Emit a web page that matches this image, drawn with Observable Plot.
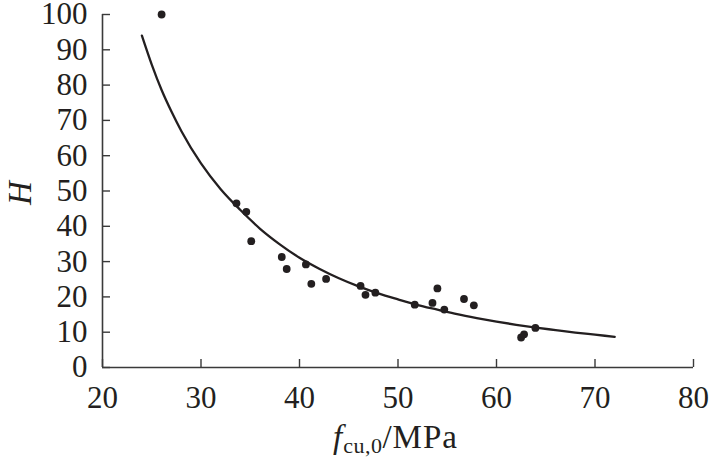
<!DOCTYPE html>
<html>
<head>
<meta charset="utf-8">
<script src="https://cdn.jsdelivr.net/npm/d3@7"></script>
<script src="https://cdn.jsdelivr.net/npm/@observablehq/plot@0.6"></script>
<style>
  html, body { margin: 0; padding: 0; background: #fff; }
  #chart svg { display: block; }
</style>
</head>
<body>
<div id="chart"></div>
<script>
// measured points
const fcu = [26.0, 33.6, 34.6, 35.1, 38.2, 38.7, 40.65, 41.2, 42.7, 46.2, 46.7, 47.7, 51.7, 53.5, 54.0, 54.7, 56.7, 57.7, 62.5, 62.8, 63.95];
const H   = [100, 46.5, 44.1, 35.8, 31.3, 27.9, 29.2, 23.7, 25.1, 23.1, 20.6, 21.2, 17.8, 18.3, 22.4, 16.4, 19.4, 17.6, 8.5, 9.4, 11.2];

// fitted curve
const curveX = [24, 25, 26, 27, 28, 30, 32, 34, 36, 38, 40, 42, 44, 46, 48, 50, 52, 54, 56, 58, 60, 62, 64, 66, 68, 70, 72];
const curveY = [94, 85.8, 78.6, 72.5, 67, 57.8, 50.5, 44.6, 39.3, 34.9, 31.1, 28.0, 25.3, 23.0, 21.0, 19.3, 17.7, 16.4, 15.1, 14.0, 13.0, 12.1, 11.3, 10.6, 9.9, 9.3, 8.7];

// tick labels
const xTicks = [20, 30, 40, 50, 60, 70, 80];
const yTicks = [0, 10, 20, 30, 40, 50, 60, 70, 80, 90, 100];

const points = fcu.map((x, i) => ({x, y: H[i]}));
const curve = curveX.map((x, i) => ({x, y: curveY[i]}));

const W = 709, Ht = 458;
const mL = 102, mR = 16, mT = 14, mB = 91;
const plotW = W - mL - mR, plotH = Ht - mT - mB;
const ink = "#231f20";
const axisInk = "#3a3a3a";
const serif = "Liberation Serif";

const chart = Plot.plot({
  width: W,
  height: Ht,
  marginLeft: mL,
  marginRight: mR,
  marginTop: mT,
  marginBottom: mB,
  style: {fontFamily: serif, fontSize: "31px", color: ink, background: "#fff"},
  x: {domain: [20, 80], ticks: xTicks, label: null},
  y: {domain: [0, 100], ticks: yTicks, label: null},
  marks: [
    Plot.axisX({ticks: xTicks, tickSize: 0, tickPadding: 18, label: null, fill: ink, fontSize: 31, fontFamily: serif}),
    Plot.axisY({ticks: yTicks, tickSize: 0, tickPadding: 15, label: null, fill: ink, fontSize: 31, fontFamily: serif}),
    Plot.ruleX(xTicks, {x: d => d, insetTop: plotH - 8, stroke: axisInk, strokeWidth: 1.4}),
    Plot.ruleY(yTicks, {y: d => d, insetRight: plotW - 8, stroke: axisInk, strokeWidth: 1.4}),
    Plot.ruleX([20], {stroke: axisInk, strokeWidth: 1.6}),
    Plot.ruleY([0], {stroke: axisInk, strokeWidth: 1.6}),
    Plot.line(curve, {x: "x", y: "y", stroke: ink, strokeWidth: 2.3, curve: "monotone-x"}),
    Plot.dot(points, {x: "x", y: "y", r: 3.9, fill: ink, stroke: "none"})
  ]
});

const svg = d3.select(chart);
// y axis label
svg.append("text")
  .attr("transform", "translate(31,193) rotate(-90)")
  .attr("text-anchor", "middle")
  .attr("font-family", serif)
  .attr("font-style", "italic")
  .attr("font-size", 33)
  .attr("fill", ink)
  .text("H");

// x axis label
const xl = svg.append("text")
  .attr("x", 333)
  .attr("y", 448)
  .attr("text-anchor", "start")
  .attr("font-family", serif)
  .attr("font-size", 33)
  .attr("fill", ink);
xl.append("tspan").attr("font-style", "italic").text("f");
xl.append("tspan").attr("font-size", 22).attr("dy", 5).attr("dx", 1).attr("letter-spacing", 0.5).text("cu,0");
xl.append("tspan").attr("dy", -5).attr("letter-spacing", 1).text("/MPa");

document.getElementById("chart").appendChild(chart);
</script>
</body>
</html>
